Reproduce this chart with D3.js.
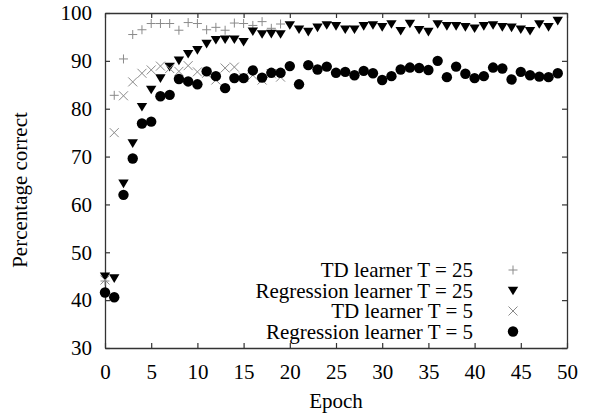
<!DOCTYPE html>
<html>
<head>
<meta charset="utf-8">
<script src="https://cdn.jsdelivr.net/npm/d3@7"></script>
<style>
  body { margin: 0; background: #fff; }
  svg text { font-family: "Liberation Serif", "Times New Roman", "DejaVu Serif", serif; font-size: 21px; fill: #000; }
</style>
</head>
<body>
<svg id="chart"></svg>
<script>
// percentage correct per epoch (index = epoch)
const tdT25 = [44.0, 82.8, 90.4, 95.5, 96.5, 97.8, 97.8, 97.8, 96.4, 98.0,
  97.8, 96.5, 97.0, 96.4, 97.9, 97.8, 97.4, 98.2, 96.8, 97.7];
const regT25 = [45.0, 44.6, 64.4, 72.8, 80.4, 84.0, 86.4, 88.8, 90.1, 91.5,
  92.3, 93.6, 94.4, 94.5, 94.5, 94.0, 96.2, 95.6, 95.7, 95.6,
  97.5, 96.6, 96.1, 97.0, 97.5, 97.3, 96.6, 96.6, 97.3, 97.5,
  97.1, 97.7, 96.3, 97.8, 96.5, 96.1, 97.7, 97.3, 97.3, 97.1,
  96.8, 97.3, 97.5, 97.1, 97.0, 96.6, 96.3, 97.7, 97.1, 98.4];
const tdT5 = [44.2, 75.0, 82.7, 85.6, 87.4, 88.1, 88.9, 88.4, 87.8, 89.0,
  87.7, 87.4, 86.0, 88.5, 88.7, 86.6, 87.0, 86.0, 87.3, 86.6];
const regT5 = [41.6, 40.6, 62.0, 69.6, 76.9, 77.3, 82.6, 82.9, 86.2, 85.7,
  85.1, 87.8, 86.8, 84.3, 86.4, 86.4, 88.0, 86.5, 87.5, 87.5,
  88.9, 85.1, 89.1, 88.2, 88.8, 87.5, 87.7, 87.0, 87.9, 87.4,
  86.0, 86.8, 88.2, 88.6, 88.5, 88.1, 90.0, 86.6, 88.8, 87.3,
  86.4, 86.8, 88.6, 88.4, 86.1, 87.7, 87.0, 86.7, 86.6, 87.4];

const xTicks = [0, 5, 10, 15, 20, 25, 30, 35, 40, 45, 50];
const yTicks = [30, 40, 50, 60, 70, 80, 90, 100];
const seriesNames = ['TD learner T = 25', 'Regression learner T = 25', 'TD learner T = 5', 'Regression learner T = 5'];

const W = 591, H = 415;
const margin = { top: 13, right: 24, bottom: 67, left: 105 };
const width = W - margin.left - margin.right;
const height = H - margin.top - margin.bottom;

const svg = d3.select('#chart')
  .attr('width', W)
  .attr('height', H);

const g = svg.append('g')
  .attr('transform', `translate(${margin.left},${margin.top})`);

const x = d3.scaleLinear().domain([0, 50]).range([0, width]);
const y = d3.scaleLinear().domain([30, 100]).range([height, 0]);

const axisColor = '#333';

// axes, ticks pointing inwards on all four sides
const xAxis = d3.axisBottom(x).tickValues(xTicks).tickSizeInner(-5).tickSizeOuter(0).tickPadding(16);
const yAxis = d3.axisLeft(y).tickValues(yTicks).tickSizeInner(-5).tickSizeOuter(0).tickPadding(13);

g.append('g')
  .attr('transform', `translate(0,${height})`)
  .call(xAxis);
g.append('g').call(yAxis);
g.append('g')
  .call(d3.axisTop(x).tickValues(xTicks).tickSizeInner(-5).tickSizeOuter(0).tickFormat(''));
g.append('g')
  .attr('transform', `translate(${width},0)`)
  .call(d3.axisRight(y).tickValues(yTicks).tickSizeInner(-5).tickSizeOuter(0).tickFormat(''));

g.selectAll('.domain').attr('stroke', axisColor).attr('stroke-width', 1.3);
g.selectAll('.tick line').attr('stroke', axisColor).attr('stroke-width', 1.2);
g.selectAll('.tick text').attr('fill', '#000');

// axis titles
svg.append('text')
  .attr('x', margin.left + width / 2)
  .attr('y', 408)
  .attr('text-anchor', 'middle')
  .text('Epoch');

svg.append('text')
  .attr('transform', 'translate(27,190) rotate(-90)')
  .attr('text-anchor', 'middle')
  .text('Percentage correct');

// marker shapes
const gray = '#8a8a8a';
const plusPath = 'M-4.5,0H4.5M0,-4.5V4.5';
const crossPath = 'M-4.5,-4.5L4.5,4.5M-4.5,4.5L4.5,-4.5';
const triPath = 'M-5.2,-3.8L5.2,-3.8L0,4.8Z';

const markers = [
  { data: tdT25, draw: s => s.append('path').attr('d', plusPath).attr('fill', 'none').attr('stroke', gray).attr('stroke-width', 1) },
  { data: regT25, draw: s => s.append('path').attr('d', triPath).attr('fill', '#000') },
  { data: tdT5, draw: s => s.append('path').attr('d', crossPath).attr('fill', 'none').attr('stroke', gray).attr('stroke-width', 1) },
  { data: regT5, draw: s => s.append('circle').attr('r', 5.2).attr('fill', '#000') }
];

markers.forEach(m => {
  const pts = g.append('g')
    .selectAll('g')
    .data(m.data)
    .join('g')
    .attr('transform', (d, i) => `translate(${x(i)},${y(d)})`);
  m.draw(pts);
});

// legend
const legend = g.append('g');
seriesNames.forEach((name, i) => {
  const cy = 257 + i * 20.5;
  legend.append('text')
    .attr('x', 368)
    .attr('y', cy + 7)
    .attr('text-anchor', 'end')
    .text(name);
  const mk = legend.append('g').attr('transform', `translate(408,${cy})`);
  markers[i].draw(mk);
});
</script>
</body>
</html>
